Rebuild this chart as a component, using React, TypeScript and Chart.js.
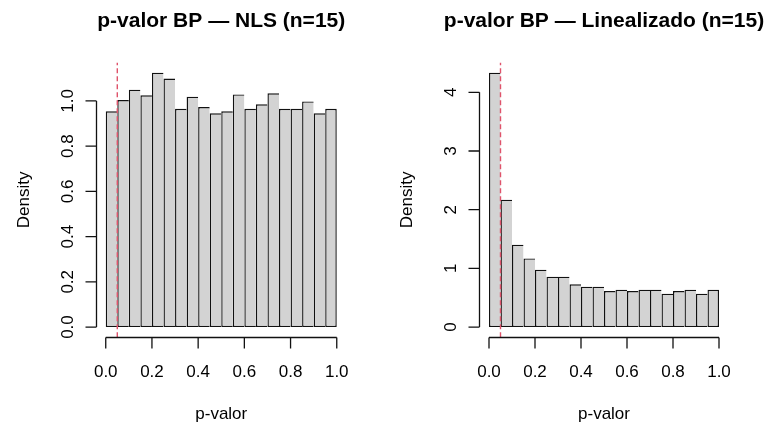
import React, { useEffect, useRef } from "react";
import { Chart, registerables } from "chart.js";

Chart.register(...registerables);

// ---- data ----
const binMids = [
  0.025, 0.075, 0.125, 0.175, 0.225, 0.275, 0.325, 0.375, 0.425, 0.475,
  0.525, 0.575, 0.625, 0.675, 0.725, 0.775, 0.825, 0.875, 0.925, 0.975,
];
const nlsDensity = [
  0.954, 1.004, 1.05, 1.025, 1.125, 1.099, 0.965, 1.019, 0.973, 0.945,
  0.954, 1.029, 0.965, 0.985, 1.034, 0.965, 0.965, 0.998, 0.945, 0.965,
];
const linDensity = [
  4.335, 2.17, 1.403, 1.17, 0.977, 0.858, 0.858, 0.727, 0.688, 0.688,
  0.614, 0.636, 0.614, 0.636, 0.636, 0.568, 0.614, 0.636, 0.568, 0.636,
];
const xTicks = [0, 0.2, 0.4, 0.6, 0.8, 1.0];
const xTickLabels = ["0.0", "0.2", "0.4", "0.6", "0.8", "1.0"];
const nlsYTicks = [0, 0.2, 0.4, 0.6, 0.8, 1.0];
const nlsYTickLabels = ["0.0", "0.2", "0.4", "0.6", "0.8", "1.0"];
const linYTicks = [0, 1, 2, 3, 4];
const linYTickLabels = ["0", "1", "2", "3", "4"];
const alphaLevel = 0.05;
const nlsTitle = "p-valor BP \u2014 NLS (n=15)";
const linTitle = "p-valor BP \u2014 Linealizado (n=15)";
const xLabel = "p-valor";
const yLabel = "Density";

const FONT = '"Liberation Sans", Arial, Helvetica, sans-serif';

const rAxes = {
  id: "rAxes",
  afterDraw(chart: any, _args: any, o: any) {
    const { ctx, chartArea: ca, scales } = chart;
    const x = scales.x;
    const y = scales.y;
    ctx.save();
    ctx.strokeStyle = "#111";
    ctx.fillStyle = "#000";
    ctx.lineWidth = 1.3;
    // x axis
    const yAx = Math.round(ca.bottom) + 0.5;
    const xs = o.xTicks.map((v: number) => x.getPixelForValue(v));
    ctx.beginPath();
    ctx.moveTo(xs[0], yAx);
    ctx.lineTo(xs[xs.length - 1], yAx);
    xs.forEach((px: number) => {
      ctx.moveTo(px, yAx);
      ctx.lineTo(px, yAx + 11);
    });
    ctx.stroke();
    ctx.font = `17px ${FONT}`;
    ctx.textAlign = "center";
    ctx.textBaseline = "alphabetic";
    xs.forEach((px: number, i: number) => {
      ctx.fillText(o.xTickLabels[i], px, ca.bottom + 40);
    });
    // y axis
    const xAx = Math.round(ca.left) - 0.5;
    const ys = o.yTicks.map((v: number) => y.getPixelForValue(v));
    ctx.beginPath();
    ctx.moveTo(xAx, ys[0]);
    ctx.lineTo(xAx, ys[ys.length - 1]);
    ys.forEach((py: number) => {
      ctx.moveTo(xAx, py);
      ctx.lineTo(xAx - 11, py);
    });
    ctx.stroke();
    ys.forEach((py: number, i: number) => {
      ctx.save();
      ctx.translate(ca.left - 24, py);
      ctx.rotate(-Math.PI / 2);
      ctx.fillText(o.yTickLabels[i], 0, 0);
      ctx.restore();
    });
    // axis titles
    const cx = (ca.left + ca.right) / 2;
    const cy = (ca.top + ca.bottom) / 2;
    ctx.fillText(o.xLabel, cx, ca.bottom + 82);
    ctx.save();
    ctx.translate(ca.left - 67.5, cy);
    ctx.rotate(-Math.PI / 2);
    ctx.fillText(o.yLabel, 0, 0);
    ctx.restore();
    // main title
    ctx.font = `bold 21px ${FONT}`;
    ctx.fillText(o.title, cx, ca.top - 35.5);
    ctx.restore();
  },
};

type PanelProps = {
  values: number[];
  yTicks: number[];
  yTickLabels: string[];
  title: string;
  left: number;
  width: number;
  padding: { left: number; right: number; top: number; bottom: number };
};

function Panel(p: PanelProps) {
  const ref = useRef<HTMLCanvasElement | null>(null);
  useEffect(() => {
    if (!ref.current) return;
    const ymax = Math.max(...p.values);
    const yMin = -0.04 * ymax;
    const yMaxR = 1.04 * ymax;
    const last = p.values.length - 1;
    const chart = new Chart(ref.current, {
      type: "bar",
      data: {
        datasets: [
          {
            type: "line",
            data: [
              { x: alphaLevel, y: yMin },
              { x: alphaLevel, y: yMaxR },
            ],
            borderColor: "#DF536B",
            borderWidth: 1.4,
            borderDash: [5, 3],
            pointRadius: 0,
            order: 0,
          } as any,
          {
            type: "bar",
            data: binMids.map((m, i) => ({ x: m, y: p.values[i] })),
            backgroundColor: "#D3D3D3",
            borderColor: "#111",
            borderSkipped: false,
            borderWidth: (c: any) => ({
              top: 1.4,
              bottom: 1.4,
              left: 1.4,
              right: c.dataIndex === last ? 1.4 : 0,
            }),
            barPercentage: 1,
            categoryPercentage: 1,
            inflateAmount: 0,
            order: 1,
          } as any,
        ],
      },
      options: {
        animation: false,
        responsive: false,
        maintainAspectRatio: false,
        layout: { padding: p.padding },
        scales: {
          x: { type: "linear", min: -0.04, max: 1.04, display: false, offset: false },
          y: { type: "linear", min: yMin, max: yMaxR, display: false },
        },
        plugins: {
          legend: { display: false },
          tooltip: { enabled: false },
          rAxes: {
            xTicks,
            xTickLabels,
            yTicks: p.yTicks,
            yTickLabels: p.yTickLabels,
            xLabel,
            yLabel,
            title: p.title,
          },
        } as any,
      },
      plugins: [rAxes],
    });
    return () => chart.destroy();
  }, []);
  return (
    <canvas
      ref={ref}
      width={p.width}
      height={430}
      style={{ position: "absolute", left: p.left, top: 0, width: p.width, height: 430 }}
    />
  );
}

export default function App() {
  return (
    <div style={{ position: "absolute", left: 0, top: 0, width: 773, height: 430, background: "#fff" }}>
      <Panel
        values={nlsDensity}
        yTicks={nlsYTicks}
        yTickLabels={nlsYTickLabels}
        title={nlsTitle}
        left={0}
        width={386}
        padding={{ left: 96.5, right: 40, top: 62.5, bottom: 92.8 }}
      />
      <Panel
        values={linDensity}
        yTicks={linYTicks}
        yTickLabels={linYTickLabels}
        title={linTitle}
        left={386}
        width={387}
        padding={{ left: 93.8, right: 44.8, top: 62.5, bottom: 92.8 }}
      />
    </div>
  );
}
